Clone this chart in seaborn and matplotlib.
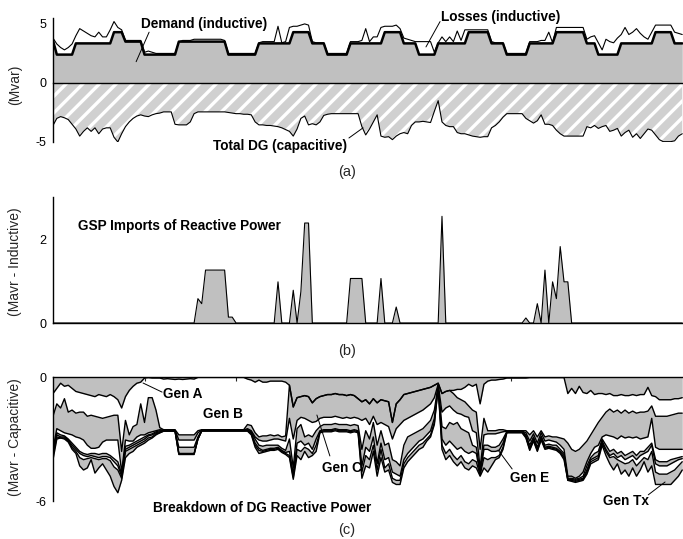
import numpy as np
import matplotlib
matplotlib.use('Agg')
import matplotlib.pyplot as plt
import seaborn as sns

# hourly values over one week (Mvar)
demand = [
    3.6, 2.4, 2.4, 2.4, 2.4, 2.4, 3.35, 3.35, 3.35, 3.35,
    3.35, 3.35, 3.35, 3.35, 3.35, 3.35, 4.3, 4.3, 4.3, 3.5,
    3.5, 3.5, 3.5, 3.5, 2.4, 2.4, 2.4, 2.4, 2.4, 2.4,
    2.4, 2.4, 2.4, 3.5, 3.5, 3.5, 3.5, 3.5, 3.5, 3.5,
    3.5, 3.5, 3.5, 3.5, 3.5, 3.5, 2.4, 2.4, 2.4, 2.4,
    2.4, 2.4, 2.4, 2.4, 3.35, 3.35, 3.35, 3.35, 3.35, 3.35,
    3.35, 3.35, 3.35, 4.3, 4.3, 4.3, 4.3, 4.3, 3.35, 3.35,
    3.35, 3.35, 2.4, 2.4, 2.4, 2.4, 2.4, 2.4, 3.35, 3.35,
    3.35, 3.35, 3.35, 3.35, 3.35, 3.35, 3.35, 4.3, 4.3, 4.3,
    4.3, 4.3, 3.35, 3.35, 3.35, 3.35, 2.4, 2.4, 2.4, 2.4,
    2.4, 3.35, 3.35, 3.35, 3.35, 3.35, 3.35, 3.35, 3.35, 4.3,
    4.3, 4.3, 4.3, 4.3, 4.3, 3.35, 3.35, 3.35, 3.35, 2.4,
    2.4, 2.4, 2.4, 2.4, 2.4, 3.35, 3.35, 3.35, 3.35, 3.35,
    3.35, 3.35, 4.3, 4.3, 4.3, 4.3, 4.3, 4.3, 4.3, 4.3,
    3.35, 3.35, 3.35, 2.4, 2.4, 2.4, 2.4, 2.4, 2.4, 3.35,
    3.35, 3.35, 3.35, 3.35, 3.35, 3.35, 3.35, 3.35, 4.3, 4.3,
    4.3, 4.3, 4.3, 3.35, 3.35, 3.35,
]

demand_plus_losses = [
    3.8, 3.3, 3.0, 2.8, 3.0, 3.3, 4.0, 4.6, 4.4, 4.2,
    4.0, 3.9, 4.3, 3.9, 3.9, 4.5, 5.2, 4.7, 4.5, 3.6,
    3.6, 3.6, 3.6, 3.6, 2.6, 2.7, 2.6, 2.5, 2.5, 2.5,
    2.5, 2.5, 2.5, 3.5, 3.6, 3.6, 3.6, 3.7, 3.7, 3.7,
    3.7, 3.7, 3.7, 3.7, 3.7, 3.6, 2.5, 2.5, 2.5, 2.5,
    2.5, 2.5, 2.5, 2.5, 3.4, 3.5, 3.5, 3.5, 3.5, 4.8,
    3.4, 3.5, 4.7, 4.8, 4.8, 4.9, 5.0, 4.9, 3.5, 3.4,
    3.4, 3.4, 2.5, 2.5, 2.5, 2.5, 2.5, 2.5, 3.5, 3.5,
    3.5, 3.6, 4.6, 3.5, 3.9, 3.9, 4.7, 4.8, 4.8, 4.8,
    4.9, 4.6, 3.8, 3.7, 3.6, 3.5, 3.5, 3.5, 3.5, 3.5,
    2.6, 3.4, 3.9, 3.5, 3.9, 3.5, 4.4, 3.6, 4.5, 4.5,
    4.5, 4.5, 4.5, 4.5, 4.5, 3.5, 3.4, 3.4, 3.4, 2.5,
    2.5, 2.5, 2.5, 2.5, 2.5, 3.5, 3.5, 3.5, 3.6, 3.6,
    4.3, 3.4, 4.7, 4.7, 4.7, 4.7, 4.7, 4.7, 4.7, 4.7,
    3.7, 3.9, 4.0, 3.4, 2.8, 3.7, 3.5, 3.4, 3.8, 4.1,
    4.7, 4.1, 4.3, 4.6, 4.2, 3.9, 3.7, 4.3, 4.9, 4.9,
    4.9, 4.9, 4.9, 4.3, 4.2, 4.1,
]

total_dg = [
    -3.6, -3.0, -2.85, -2.95, -3.1, -3.5, -3.9, -4.5, -4.1, -3.8,
    -4.1, -3.8, -4.3, -3.9, -3.8, -3.8, -4.6, -5.0, -4.3, -3.7,
    -3.3, -3.0, -2.8, -2.7, -2.8, -2.85, -2.7, -2.6, -2.55, -2.45,
    -2.45, -2.45, -3.5, -3.55, -3.55, -3.55, -3.3, -2.6, -2.45, -2.45,
    -2.45, -2.45, -2.45, -2.45, -2.45, -2.45, -2.5, -2.55, -2.6, -2.6,
    -2.65, -2.65, -2.7, -3.3, -3.55, -3.55, -3.6, -3.6, -3.65, -3.7,
    -3.8, -3.95, -4.1, -4.5, -3.9, -3.0, -2.8, -3.55, -3.45, -3.55,
    -3.3, -2.75, -2.65, -2.6, -2.6, -2.6, -2.6, -2.6, -2.6, -2.6,
    -2.6, -3.7, -4.4, -3.9, -3.3, -2.7, -4.5, -4.6, -4.55, -4.8,
    -4.5, -4.3, -4.2, -4.3, -3.6, -3.3, -3.3, -3.25, -3.3, -3.35,
    -2.4, -1.5, -3.3, -3.6, -3.7, -3.7, -4.2, -4.3, -4.3, -4.4,
    -4.5, -4.55, -4.6, -4.55, -4.55, -3.8, -3.6, -3.3, -2.9, -2.6,
    -2.6, -2.6, -2.6, -2.6, -3.0, -3.2, -3.4, -3.2, -2.7, -3.5,
    -3.5, -3.6, -4.0, -4.3, -4.5, -4.5, -4.5, -4.5, -4.5, -4.5,
    -3.7, -3.8, -3.6, -3.85, -3.7, -3.6, -4.1, -4.0, -3.85, -4.5,
    -4.2, -4.0, -4.6, -4.3, -4.7, -4.3, -3.9, -4.0, -4.4, -4.8,
    -4.97, -4.97, -4.97, -4.9, -4.5, -4.3,
]

gsp_imports = [
    0, 0, 0, 0, 0, 0, 0, 0, 0, 0,
    0, 0, 0, 0, 0, 0, 0, 0, 0, 0,
    0, 0, 0, 0, 0, 0, 0, 0, 0, 0,
    0, 0, 0, 0, 0, 0, 0, 0, 0.58, 0.46,
    1.26, 1.26, 1.26, 1.26, 1.26, 1.26, 0.14, 0.14, 0, 0,
    0, 0, 0, 0, 0, 0, 0, 0, 0, 0.98,
    0, 0, 0, 0.78, 0, 0.75, 2.38, 2.38, 0, 0,
    0, 0, 0, 0, 0, 0, 0, 0, 1.06, 1.06,
    1.06, 1.06, 0, 0, 0, 0, 1.06, 0, 0, 0,
    0.38, 0, 0, 0, 0, 0, 0, 0, 0, 0,
    0, 0, 2.54, 0, 0, 0, 0, 0, 0, 0,
    0, 0, 0, 0, 0, 0, 0, 0, 0, 0,
    0, 0, 0, 0, 0.12, 0, 0, 0.46, 0, 1.26,
    0, 0.98, 0.58, 1.82, 0.98, 0.98, 0, 0, 0, 0,
    0, 0, 0, 0, 0, 0, 0, 0, 0, 0,
    0, 0, 0, 0, 0, 0, 0, 0, 0, 0,
    0, 0, 0, 0, 0, 0,
]

# cumulative DG breakdown, top boundary downwards (capacitive, negative)
gen_a = [
    -0.8, -0.55, -0.3, -0.45, -0.4, -0.55, -0.7, -0.75, -0.8, -0.85,
    -0.9, -0.95, -0.85, -0.9, -0.95, -0.85, -0.95, -1.1, -1.5, -0.95,
    -0.65, -0.45, -0.3, -0.25, -0.05, -0.03, -0.05, -0.05, -0.05, -0.1,
    -0.08, -0.1, -0.12, -0.1, -0.12, -0.1, -0.08, -0.1, -0.02, -0.02,
    -0.02, -0.02, -0.02, -0.02, -0.02, -0.02, -0.02, -0.02, -0.02, -0.02,
    -0.02, -0.1, -0.15, -0.25, -0.15, -0.25, -0.25, -0.2, -0.2, -0.2,
    -0.2, -0.25, -0.4, -1.45, -1.0, -0.95, -0.9, -0.95, -1.25, -1.05,
    -0.95, -0.9, -0.85, -0.85, -0.8, -0.85, -0.85, -0.9, -0.85, -0.9,
    -1.05, -1.2, -1.1, -1.3, -1.05, -1.25, -1.1, -1.15, -1.2, -2.2,
    -1.3, -1.1, -0.85, -0.8, -0.75, -0.7, -0.65, -0.6, -0.55, -0.5,
    -0.4, -0.3, -0.8, -0.7, -0.65, -0.65, -0.6, -0.6, -0.5, -0.35,
    -0.45, -0.35, -1.3, -0.35, -0.2, -0.15, -0.15, -0.12, -0.1, -0.05,
    -0.05, -0.05, -0.05, -0.05, -0.05, -0.03, -0.03, -0.03, -0.03, -0.03,
    -0.03, -0.03, -0.03, -0.03, -0.03, -0.8, -0.55, -0.8, -0.45, -0.75,
    -0.8, -0.65, -0.85, -0.8, -0.8, -0.85, -0.8, -0.9, -0.9, -0.85,
    -0.9, -0.9, -0.85, -0.9, -0.85, -0.85, -0.5, -0.9, -0.95, -1.1,
    -1.1, -1.1, -1.1, -1.05, -1.05, -1.0,
]

gen_b = [
    -1.9, -1.3, -1.5, -1.05, -1.7, -1.6, -1.75, -1.7, -1.7, -1.9,
    -1.85, -1.9, -1.95, -2.0, -1.95, -1.9, -1.85, -1.85, -3.6, -2.1,
    -2.8, -2.4, -2.3, -1.3, -2.2, -1.0, -1.0, -1.6, -2.45, -2.55,
    -2.55, -2.55, -2.55, -2.8, -2.8, -2.8, -2.8, -2.8, -2.6, -2.55,
    -2.55, -2.55, -2.55, -2.55, -2.55, -2.55, -2.55, -2.55, -2.55, -2.55,
    -2.55, -2.3, -2.35, -2.7, -2.9, -2.85, -2.85, -2.8, -2.85, -2.8,
    -2.9, -2.85, -0.4, -1.45, -1.0, -0.95, -0.9, -0.95, -1.25, -1.05,
    -0.95, -0.9, -0.85, -0.85, -0.8, -0.85, -0.85, -0.9, -0.85, -0.9,
    -1.05, -1.2, -1.1, -1.3, -1.05, -1.25, -1.1, -1.15, -1.2, -2.2,
    -1.3, -1.1, -0.85, -0.8, -0.75, -0.7, -0.65, -0.6, -0.55, -0.5,
    -0.4, -0.3, -0.8, -0.7, -0.65, -0.8, -1.0, -1.1, -1.2, -1.4,
    -1.6, -1.7, -3.5, -2.0, -2.6, -2.6, -2.6, -2.55, -2.55, -2.6,
    -2.6, -2.6, -2.6, -2.6, -2.6, -2.8, -2.6, -2.9, -2.6, -2.9,
    -2.85, -2.9, -2.9, -2.95, -3.0, -3.2, -3.5, -3.6, -3.5, -3.3,
    -3.1, -2.8, -2.5, -2.2, -1.95, -1.7, -1.55, -1.7, -1.6, -1.75,
    -1.6, -1.75, -1.65, -1.75, -1.7, -1.7, -1.65, -1.4, -1.9, -1.9,
    -1.9, -1.9, -1.85, -1.8, -1.75, -1.75,
]

gen_c = [
    -3.5, -2.5, -2.6, -2.7, -2.75, -2.8, -2.9, -2.95, -3.05, -3.3,
    -3.45, -3.45, -3.4, -3.15, -3.05, -3.05, -3.05, -3.05, -4.6, -3.05,
    -3.1, -3.1, -2.9, -2.8, -2.8, -2.7, -2.65, -2.6, -2.55, -2.57,
    -2.57, -2.57, -2.57, -3.05, -3.05, -3.05, -3.05, -3.05, -2.7, -2.57,
    -2.57, -2.57, -2.57, -2.57, -2.57, -2.57, -2.57, -2.57, -2.57, -2.57,
    -2.57, -2.5, -2.6, -2.9, -3.05, -3.1, -3.1, -3.05, -3.0, -3.0,
    -3.05, -3.1, -2.0, -3.0, -2.1, -1.95, -2.0, -2.1, -2.2, -2.15,
    -2.0, -1.95, -1.95, -1.95, -1.9, -1.95, -2.0, -1.95, -2.0, -1.95,
    -2.0, -2.1, -2.0, -2.3, -1.9, -2.3, -2.2, -2.3, -2.4, -3.0,
    -2.5, -2.3, -2.1, -2.0, -1.9, -1.8, -1.7, -1.6, -1.45, -1.3,
    -1.0, -0.35, -1.7, -1.5, -1.4, -1.6, -1.75, -1.8, -1.9, -1.95,
    -2.6, -2.7, -4.4, -2.8, -2.75, -2.75, -2.75, -2.7, -2.65, -2.62,
    -2.62, -2.62, -2.62, -2.62, -2.7, -3.1, -2.75, -3.2, -2.7, -3.1,
    -3.05, -3.1, -3.15, -3.3, -3.5, -4.8, -4.8, -4.9, -4.8, -4.6,
    -4.1, -3.7, -3.4, -3.3, -2.9, -2.8, -2.85, -2.9, -3.0, -2.85,
    -2.95, -2.9, -2.95, -2.9, -3.0, -2.95, -2.9, -2.0, -3.4, -3.5,
    -3.5, -3.5, -3.5, -3.5, -3.5, -3.5,
]

gen_d = [
    -3.6, -2.7, -2.8, -2.85, -3.0, -3.2, -3.4, -3.6, -3.7, -3.75,
    -3.7, -3.7, -3.75, -3.7, -3.7, -3.8, -3.95, -4.1, -4.7, -3.35,
    -3.3, -3.2, -3.1, -3.0, -2.9, -2.8, -2.75, -2.65, -2.6, -2.6,
    -2.6, -2.6, -2.6, -3.4, -3.4, -3.4, -3.4, -3.4, -2.9, -2.58,
    -2.58, -2.58, -2.58, -2.58, -2.58, -2.58, -2.58, -2.58, -2.58, -2.58,
    -2.58, -2.55, -2.65, -3.0, -3.3, -3.35, -3.3, -3.3, -3.3, -3.3,
    -3.45, -3.55, -3.0, -4.4, -2.5, -2.3, -2.9, -2.8, -2.9, -2.6,
    -2.4, -2.3, -2.3, -2.3, -2.25, -2.3, -2.3, -2.3, -2.35, -2.3,
    -2.35, -3.5, -2.6, -3.0, -2.2, -3.3, -2.6, -3.3, -3.2, -4.0,
    -4.1, -4.3, -3.3, -2.9, -2.8, -2.7, -2.6, -2.5, -2.3, -2.1,
    -1.6, -0.4, -2.4, -2.5, -2.2, -2.3, -2.2, -2.5, -2.6, -2.7,
    -3.3, -3.4, -4.6, -3.3, -3.3, -3.4, -3.4, -3.3, -3.0, -2.64,
    -2.64, -2.64, -2.64, -2.64, -2.8, -3.3, -2.9, -3.4, -2.85, -3.3,
    -3.25, -3.3, -3.3, -3.5, -3.7, -4.9, -4.9, -4.95, -4.9, -4.8,
    -4.3, -3.9, -3.7, -3.6, -3.0, -3.3, -3.6, -3.5, -3.7, -3.6,
    -3.8, -3.7, -3.6, -3.8, -3.6, -3.6, -3.4, -3.2, -4.0, -4.1,
    -4.1, -4.1, -4.0, -3.95, -3.9, -3.85,
]

gen_e = [
    -3.7, -2.8, -2.9, -2.9, -3.05, -3.3, -3.5, -3.7, -3.8, -3.85,
    -3.8, -3.85, -3.9, -3.85, -3.85, -3.9, -4.1, -4.3, -4.8, -3.5,
    -3.4, -3.3, -3.2, -3.1, -3.0, -2.85, -2.8, -2.7, -2.65, -2.6,
    -2.6, -2.6, -2.6, -3.7, -3.7, -3.7, -3.7, -3.7, -3.0, -2.6,
    -2.6, -2.6, -2.6, -2.6, -2.6, -2.6, -2.6, -2.6, -2.6, -2.6,
    -2.6, -2.58, -2.7, -3.2, -3.45, -3.55, -3.5, -3.45, -3.45, -3.4,
    -3.55, -3.65, -3.6, -4.7, -3.2, -3.1, -3.3, -3.2, -3.5, -3.0,
    -2.6, -2.55, -2.55, -2.55, -2.5, -2.55, -2.55, -2.55, -2.6, -2.55,
    -2.6, -4.3, -3.4, -3.6, -2.9, -4.2, -3.2, -4.0, -3.9, -4.6,
    -4.7, -4.8, -4.0, -3.7, -3.5, -3.3, -3.1, -3.0, -2.8, -2.6,
    -2.0, -0.45, -3.0, -3.3, -3.1, -3.3, -3.5, -3.4, -3.6, -3.7,
    -3.6, -3.7, -4.7, -3.5, -3.5, -3.6, -3.6, -3.55, -3.2, -2.66,
    -2.66, -2.66, -2.66, -2.66, -2.85, -3.45, -3.0, -3.5, -2.95, -3.4,
    -3.35, -3.4, -3.45, -3.6, -3.8, -4.95, -4.95, -5.0, -4.95, -4.9,
    -4.5, -4.0, -3.9, -3.8, -3.1, -3.5, -3.8, -3.7, -3.9, -3.8,
    -4.0, -3.9, -3.8, -4.0, -3.8, -3.7, -3.6, -3.3, -4.2, -4.3,
    -4.3, -4.3, -4.2, -4.1, -4.0, -3.95,
]

gen_f = [
    -3.8, -2.9, -2.95, -2.95, -3.1, -3.4, -3.6, -3.9, -4.0, -3.95,
    -3.9, -3.95, -4.0, -3.95, -3.95, -4.05, -4.35, -4.5, -4.9, -3.6,
    -3.5, -3.4, -3.3, -3.2, -3.1, -2.95, -2.9, -2.75, -2.7, -2.62,
    -2.62, -2.62, -2.62, -3.72, -3.72, -3.72, -3.72, -3.72, -3.0, -2.6,
    -2.6, -2.6, -2.6, -2.6, -2.6, -2.6, -2.6, -2.6, -2.6, -2.6,
    -2.6, -2.6, -2.75, -3.3, -3.55, -3.6, -3.55, -3.5, -3.5, -3.45,
    -3.6, -3.7, -3.8, -4.85, -3.5, -3.6, -3.4, -3.5, -3.7, -3.3,
    -2.65, -2.6, -2.6, -2.6, -2.55, -2.6, -2.6, -2.6, -2.65, -2.6,
    -2.65, -4.6, -3.8, -4.0, -3.3, -4.5, -3.5, -4.4, -4.2, -4.9,
    -5.0, -5.0, -4.2, -3.9, -3.7, -3.5, -3.3, -3.2, -3.0, -2.8,
    -2.2, -0.5, -3.3, -3.7, -3.5, -3.8, -4.0, -3.8, -4.1, -4.2,
    -4.0, -4.1, -4.75, -3.9, -4.0, -3.9, -3.9, -3.8, -3.4, -2.68,
    -2.68, -2.68, -2.68, -2.68, -2.9, -3.5, -3.05, -3.55, -3.0, -3.45,
    -3.4, -3.45, -3.5, -3.65, -3.9, -5.0, -5.0, -5.05, -5.0, -4.95,
    -4.6, -4.1, -4.0, -3.9, -3.2, -3.6, -3.9, -3.85, -4.0, -4.1,
    -4.2, -4.15, -4.0, -4.3, -4.1, -3.9, -4.0, -3.6, -4.6, -4.7,
    -4.7, -4.7, -4.6, -4.5, -4.3, -4.1,
]

gen_tx = [
    -4.0, -3.0, -2.95, -3.0, -3.15, -3.5, -3.7, -4.3, -4.5, -4.4,
    -4.0, -4.65, -4.4, -4.2, -4.5, -4.8, -5.3, -5.6, -5.0, -3.9,
    -3.7, -3.6, -3.4, -3.3, -3.2, -3.05, -2.95, -2.8, -2.7, -2.62,
    -2.62, -2.62, -2.62, -3.75, -3.75, -3.75, -3.75, -3.75, -3.0, -2.62,
    -2.62, -2.62, -2.62, -2.62, -2.62, -2.62, -2.62, -2.62, -2.62, -2.62,
    -2.62, -2.62, -2.8, -3.4, -3.7, -3.65, -3.6, -3.55, -3.55, -3.5,
    -3.65, -3.75, -3.9, -4.95, -3.8, -4.0, -3.6, -3.9, -3.8, -3.6,
    -2.7, -2.65, -2.65, -2.65, -2.6, -2.65, -2.65, -2.65, -2.7, -2.65,
    -2.7, -4.9, -4.3, -4.4, -3.6, -4.8, -3.9, -4.6, -4.5, -5.1,
    -5.2, -5.2, -4.4, -4.1, -3.9, -3.7, -3.5, -3.4, -3.1, -2.9,
    -2.3, -0.5, -3.5, -4.0, -3.8, -4.1, -4.3, -4.1, -4.4, -4.5,
    -4.3, -4.4, -4.8, -4.4, -4.6, -4.3, -4.0, -3.9, -3.5, -2.7,
    -2.7, -2.7, -2.7, -2.7, -2.95, -3.55, -3.1, -3.6, -3.05, -3.5,
    -3.45, -3.5, -3.55, -3.7, -4.0, -5.0, -5.05, -5.1, -5.05, -5.0,
    -4.7, -4.2, -4.1, -4.0, -3.3, -3.8, -4.2, -4.5, -4.2, -4.7,
    -4.5, -4.8, -4.4, -4.8, -4.5, -4.1, -4.6, -4.3, -5.2, -5.2,
    -5.2, -5.2, -5.2, -5.0, -4.8, -4.5,
]

hours = np.arange(len(demand))
day_ticks = [24, 48, 72, 96, 120, 144]

sns.set_style('white')
plt.rcParams['font.family'] = ['Liberation Sans', 'DejaVu Sans']
plt.rcParams['axes.unicode_minus'] = False
plt.rcParams['hatch.linewidth'] = 2.4

GRAY = '#c0c0c0'
W, H = 683, 539
fig = plt.figure(figsize=(W / 100, H / 100), dpi=100)


def px_axes(left, top, right, bottom):
    return fig.add_axes([left / W, 1 - bottom / H, (right - left) / W, (bottom - top) / H])


def style(ax, ylim, yticks):
    ax.set_xlim(0, 165.2)
    ax.set_ylim(*ylim)
    ax.set_yticks(yticks)
    ax.set_xticks(day_ticks)
    ax.set_xticklabels([])
    for s in ax.spines.values():
        s.set_color('black')
        s.set_linewidth(1.0)
    ax.tick_params(axis='y', direction='out', length=3, width=0.8, labelsize=9, pad=2, colors='black')
    ax.tick_params(axis='x', length=3, width=0.8)
    ax.patch.set_alpha(0)


def leader(ax, start, end):
    ax.annotate('', xy=end, xytext=start,
                arrowprops=dict(arrowstyle='-', lw=0.7, color='black', shrinkA=0, shrinkB=0))


bold = dict(fontsize=9.8, fontweight='bold', color='black')

# (a) demand, losses and total DG
ax = px_axes(53, 18, 683, 142)
ax.fill_between(hours, 0, demand, color=GRAY, lw=0)
ax.fill_between(hours, total_dg, 0, facecolor='#d0d0d0', edgecolor='white', hatch='//', lw=0)
sns.lineplot(x=hours, y=demand_plus_losses, ax=ax, color='black', lw=0.8)
sns.lineplot(x=hours, y=demand, ax=ax, color='black', lw=1.8)
sns.lineplot(x=hours, y=total_dg, ax=ax, color='black', lw=0.8)
style(ax, (-5, 5.5), [-5, 0, 5])
ax.spines[['top', 'right']].set_visible(False)
ax.spines['bottom'].set_position(('data', 0))
ax.tick_params(axis='x', direction='out')
ax.text(39.5, 5.0, 'Demand (inductive)', ha='center', va='center', **bold)
leader(ax, (25.2, 4.3), (21.8, 1.8))
ax.text(117.5, 5.6, 'Losses (inductive)', ha='center', va='center', **bold)
leader(ax, (101.5, 5.2), (97.8, 3.05))
ax.text(59.5, -5.3, 'Total DG (capacitive)', ha='center', va='center', clip_on=False, **bold)
leader(ax, (77.6, -4.66), (81.3, -3.8))

# (b) GSP imports
ax = px_axes(53, 197, 683, 323)
ax.fill_between(hours, 0, gsp_imports, color=GRAY, lw=0)
sns.lineplot(x=hours, y=gsp_imports, ax=ax, color='black', lw=0.8)
style(ax, (0, 3), [0, 2])
ax.spines[['top', 'right']].set_visible(False)
ax.tick_params(axis='x', direction='out')
ax.text(6.6, 2.3, 'GSP Imports of Reactive Power', ha='left', va='center', **bold)

# (c) breakdown of DG reactive power
ax = px_axes(53, 377, 683, 501)
bounds = [np.zeros(len(hours)), gen_a, gen_b, gen_c, gen_d, gen_e, gen_f, gen_tx]
for i in range(len(bounds) - 1):
    if i % 2 == 0:
        ax.fill_between(hours, bounds[i], bounds[i + 1], color=GRAY, lw=0)
for line in bounds[1:]:
    sns.lineplot(x=hours, y=line, ax=ax, color='black', lw=1.0)
style(ax, (-6, 0), [-6, 0])
ax.spines[['bottom', 'right']].set_visible(False)
ax.xaxis.tick_top()
ax.tick_params(axis='x', direction='in')
ax.text(28.9, -0.82, 'Gen A', ha='left', va='center', **bold)
leader(ax, (28.6, -0.73), (23.6, -0.29))
ax.text(39.3, -1.79, 'Gen B', ha='left', va='center', **bold)
ax.text(70.6, -4.4, 'Gen C', ha='left', va='center', **bold)
leader(ax, (72.6, -3.82), (69.2, -1.84))
ax.text(119.9, -4.89, 'Gen E', ha='left', va='center', **bold)
leader(ax, (120.4, -4.45), (116.7, -3.53))
ax.text(144.3, -6.0, 'Gen Tx', ha='left', va='center', clip_on=False, **bold)
leader(ax, (156.1, -5.7), (160.5, -5.08))
ax.text(26.2, -6.34, 'Breakdown of DG Reactive Power', ha='left', va='center', clip_on=False, **bold)

# axis titles and panel letters
for y, label in [(85, '(Mvar)'), (262, '(Mavr - Inductive)'), (437, '(Mavr - Capacitive)')]:
    fig.text(15 / W, 1 - y / H, label, rotation=90, ha='center', va='center', fontsize=10)
for y, label in [(172, '(a)'), (351, '(b)'), (530, '(c)')]:
    fig.text(347 / W, 1 - y / H, label, ha='center', va='center', fontsize=10.5)

fig.savefig('out.png', dpi=100)
